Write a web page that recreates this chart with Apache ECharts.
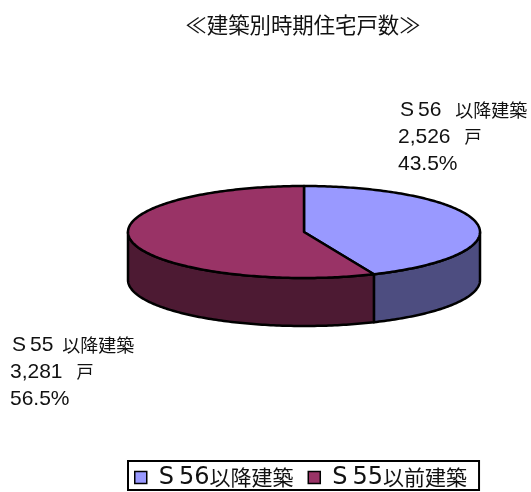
<!DOCTYPE html>
<html>

<head>
  <meta charset="utf-8">
  <title>建築別時期住宅戸数</title>
  <style>
    html, body {
      margin: 0;
      background: #fff;
    }

    #chart {
      width: 531px;
      height: 492px;
    }
  </style>
  <script src="https://cdn.jsdelivr.net/npm/echarts@6/dist/echarts.min.js"></script>
</head>

<body>
  <div id="chart"></div>

  <script>
    var chartTitle = '≪建築別時期住宅戸数≫';
    var categories = ['S56以降建築', 'S55以前建築'];
    var labelNames = ['S56 以降建築', 'S55 以降建築'];
    var values = [2526, 3281];
    var percents = ['43.5%', '56.5%'];
    var topColors = ['#9999FF', '#993366'];
    var sideColors = ['#4D4D80', '#4D1A33'];

    var labelFont = '"Liberation Sans"';
    var legendFont = '"DejaVu Sans"';
    var cjkFont = '"Noto Sans CJK JP"';
    var cx = 304, cy = 232, rx = 176, ry = 46, depth = 48;
    var total = values[0] + values[1];

    // 楕円上の点（angleは真上から時計回り）
    function rimPoint(angle, drop) {
      return [cx + rx * Math.sin(angle), cy - ry * Math.cos(angle) + drop];
    }

    function arcPoints(from, to, drop) {
      var pts = [];
      var steps = Math.max(2, Math.ceil((to - from) * 60));
      for (var i = 0; i <= steps; i++) {
        pts.push(rimPoint(from + (to - from) * i / steps, drop));
      }
      return pts;
    }

    function makeSlice(index) {
      return function (params, api) {
        var before = 0;
        for (var i = 0; i < index; i++) before += values[i];
        var from = before / total * Math.PI * 2;
        var to = (before + api.value(0)) / total * Math.PI * 2;
        var line = { stroke: '#000', lineWidth: 2.5, lineJoin: 'round' };
        var children = [];

        // 側面は手前側（90度〜270度）だけ
        var sideFrom = Math.max(from, Math.PI / 2);
        var sideTo = Math.min(to, Math.PI * 3 / 2);
        if (sideTo > sideFrom) {
          var side = arcPoints(sideFrom, sideTo, 0).concat(arcPoints(sideFrom, sideTo, depth).reverse());
          children.push({
            type: 'polygon',
            shape: { points: side },
            style: Object.assign({ fill: sideColors[index] }, line)
          });
        }
        children.push({
          type: 'polygon',
          shape: { points: [[cx, cy]].concat(arcPoints(from, to, 0)) },
          style: Object.assign({ fill: topColors[index] }, line)
        });
        return { type: 'group', children: children };
      };
    }

    // "S" + 数字 + 漢字 に分けてrich文字列にする
    function richName(name) {
      var m = name.match(/^(S)(\d+\s?)(.*)$/);
      return '{s|' + m[1] + '}{d|' + m[2] + '}{c|' + m[3] + '}';
    }

    function richStyles(font, latinSize, cjkSize, sPad, cPad) {
      return {
        s: { fontFamily: font, fontSize: latinSize, padding: sPad, fill: '#111', color: '#111' },
        d: { fontFamily: font, fontSize: latinSize, fill: '#111', color: '#111' },
        c: { fontFamily: cjkFont, fontSize: cjkSize, padding: [0, 0, 0, cPad], fill: '#111', color: '#111' }
      };
    }

    function labelText(i, x, y, cPad) {
      var count = values[i].toLocaleString('en-US');
      var lines = [
        richName(labelNames[i]),
        '{d|' + count + ' }{c2|戸}',
        '{d|' + percents[i] + '}'
      ];
      var rich = richStyles(labelFont, 21, 18, [0, 4, 0, 0], cPad);
      rich.c2 = { fontFamily: cjkFont, fontSize: 17, padding: [0, 0, 0, 8], fill: '#111' };
      return lines.map(function (t, n) {
        return {
          type: 'text',
          x: n === 0 ? x + 2 : x,
          y: y + n * 27,
          style: {
            text: t,
            verticalAlign: 'middle',
            rich: rich
          }
        };
      });
    }

    var myChart = echarts.init(document.getElementById('chart'), null, { renderer: 'canvas' });

    myChart.setOption({
      animation: false,
      title: {
        text: chartTitle,
        left: 298,
        top: 9,
        textAlign: 'center',
        textStyle: { fontFamily: cjkFont, fontSize: 21.4, fontWeight: 'normal', color: '#111' }
      },
      legend: {
        left: 128,
        top: 461,
        orient: 'horizontal',
        data: categories,
        icon: 'rect',
        itemWidth: 12,
        itemHeight: 12,
        itemGap: 14,
        padding: [4, 12, 0, 6],
        borderColor: '#000',
        borderWidth: 2,
        itemStyle: { borderColor: '#000', borderWidth: 1.5 },
        formatter: richName,
        textStyle: { rich: richStyles(legendFont, 24, 21, [0, 5, 0, 7], 0), lineHeight: 25 }
      },
      graphic: labelText(0, 398, 110, 8).concat(labelText(1, 10, 345, 3)),
      series: categories.map(function (name, i) {
        return {
          type: 'custom',
          name: name,
          coordinateSystem: 'none',
          itemStyle: { color: topColors[i] },
          data: [[values[i]]],
          renderItem: makeSlice(i),
          silent: true
        };
      })
    });
  </script>
</body>

</html>
